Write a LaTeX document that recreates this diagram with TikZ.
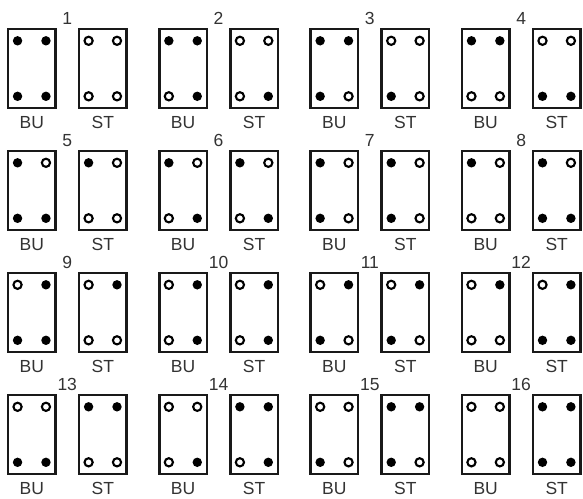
\documentclass[tikz,border=0pt]{standalone}
\usepackage{fontspec}
\setmainfont{Liberation Sans}
\usetikzlibrary{calc}
\tikzset{
  bar/.style={draw=black!90, line width=2.5pt, minimum width=47.5pt, minimum height=79pt, inner sep=0pt, outer sep=0pt},
  hollow/.style={draw=black, line width=2.1pt, fill=white},
  full/.style={fill=black},
  num/.style={font=\fontsize{17.5}{17.5}\selectfont, text=black!80, inner sep=0pt},
  lab/.style={font=\fontsize{17.5}{17.5}\selectfont, text=black!80, inner sep=0pt}
}
\newcommand\rebar[3]{\ifnum#3=1 \fill[full] ($(#1)+#2$) circle (4.7pt);\else \draw[hollow] ($(#1)+#2$) circle (4.1pt);\fi}
\newcommand\rebars[5]{\rebar{#1}{(-14.2,-27.5)}{#2}\rebar{#1}{(14.2,-27.5)}{#3}\rebar{#1}{(-14.2,28)}{#4}\rebar{#1}{(14.2,28)}{#5}}
\begin{document}
\begin{tikzpicture}[x=1pt,y=-1pt]
\useasboundingbox (0,0) rectangle (583,498);
\foreach \n/\bu/\st in {1/1111/0000, 2/1101/0001, 3/1110/0010, 4/1100/0011,
  5/1011/1000, 6/1001/1001, 7/1010/1010, 8/1000/1011,
  9/0111/0100, 10/0101/0101, 11/0110/0110, 12/0100/0111,
  13/0011/1100, 14/0001/1101, 15/0010/1110, 16/0000/1111}{
  \pgfmathtruncatemacro\cc{mod(\n-1,4)}
  \pgfmathtruncatemacro\rr{div(\n-1,4)}
  \pgfmathsetmacro\xx{31.75+151.3*\cc}
  \pgfmathsetmacro\yy{68.3+122*\rr}
  \node[bar] (bu\n) at (\xx,\yy) {};
  \node[bar] (st\n) at (\xx+71.05,\yy) {};
  \node[num] (n\n) at (\xx+35.5,\yy-49.5) {\n};
  \node[lab] (bl\n) at (\xx,\yy+54) {BU};
  \node[lab] (sl\n) at (\xx+71.05,\yy+54) {ST};
  \edef\tmp{\noexpand\rebars{bu\n}\bu\noexpand\rebars{st\n}\st}\tmp
}
\end{tikzpicture}
\end{document}
